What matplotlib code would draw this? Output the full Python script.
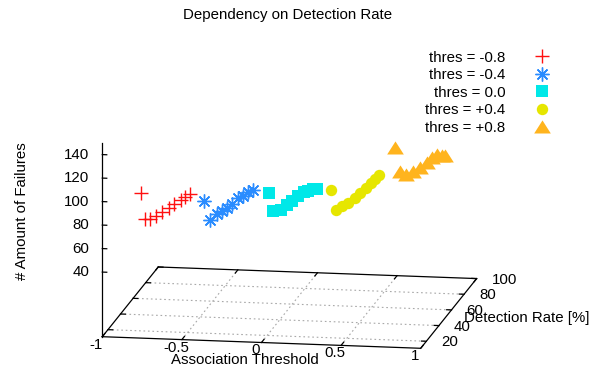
import numpy as np
import matplotlib
matplotlib.use("Agg")
import matplotlib.pyplot as plt
from mpl_toolkits.mplot3d import proj3d

plt.rcParams['font.family'] = ['Liberation Sans', 'DejaVu Sans']
FS = 10.8

# data
thresholds = [-0.8, -0.4, 0.0, 0.4, 0.8]
labels = ['thres = -0.8', 'thres = -0.4', 'thres = 0.0', 'thres = +0.4', 'thres = +0.8']
det_m08 = [22, 28, 37, 46, 56, 67, 75, 85, 92, 100]
fail_m08 = [101, 75, 69, 65, 62, 58, 56, 53, 51, 48]
det_m04 = [21, 30, 41, 50, 57, 66, 75, 83, 91, 99]
fail_m04 = [97, 75, 72, 69, 67, 64, 63, 60, 58, 54]
det_00 = [23, 30, 42, 51, 60, 69, 78, 85, 93, 100]
fail_00 = [104, 84, 77, 75, 73, 71, 68, 65, 61, 56]
det_p04 = [20, 29, 38, 48, 58, 67, 76, 84, 91, 97]
fail_p04 = [111, 88, 85, 81, 79, 77, 75, 74, 73, 72]
det_p08 = [21, 28, 39, 49, 60, 71, 80, 88, 95, 100]
fail_p08 = [148, 123, 113, 109, 105, 102, 100, 97, 92, 88]

xticks = [-1, -0.5, 0, 0.5, 1]
xticklabels = ['-1', '-0.5', '0', '0.5', '1']
yticks = [20, 40, 60, 80, 100]
zticks = [40, 60, 80, 100, 120, 140]

XMIN, XMAX = -1, 1
YMIN, YMAX = 11, 100
ZMIN, ZMAX = -15, 150   # floor sits below z=40 like gnuplot's ticslevel

W, H = 605, 372
fig = plt.figure(figsize=(W / 100, H / 100), dpi=100)
ax = fig.add_axes([0, 0, 1, 1], projection='3d', proj_type='ortho')
ax.set_xlim(XMIN, XMAX)
ax.set_ylim(YMIN, YMAX)
ax.set_zlim(ZMIN, ZMAX)
ax.view_init(elev=12.3, azim=-80.3)
ax.set_box_aspect((323, 332, 198.4))
ax.set_axis_off()
ax.computed_zorder = False


def to_px(xs, ys, zs):
    px, py, _ = proj3d.proj_transform(np.asarray(xs, float), np.asarray(ys, float),
                                      np.asarray(zs, float), ax.get_proj())
    return ax.transData.transform(np.column_stack([px, py]))


# fit the axes so the floor corners land where gnuplot put them
fig.canvas.draw()
p = to_px([XMIN, XMAX], [YMIN, YMIN], [ZMIN, ZMIN])
s = np.hypot(318.4, 11.6) / np.hypot(*(p[1] - p[0]))
bb = ax.get_position()
a = np.array([bb.x0 * W, bb.y0 * H])
L = bb.width * W
target = np.array([102.3, H - 336.7])
a_new = target - s * (p[0] - a)
ax.set_position([a_new[0] / W, a_new[1] / H, s * L / W, s * L / H])
fig.canvas.draw()

grid_kw = dict(color='#a8a8a8', lw=0.8, ls=(0, (1.5, 2.5)))
for x in xticks[1:-1]:
    ax.plot([x, x], [YMIN, YMAX], [ZMIN, ZMIN], **grid_kw)
for y in yticks[:-1]:
    ax.plot([XMIN, XMAX], [y, y], [ZMIN, ZMIN], **grid_kw)

bk = dict(color='black', lw=0.9)
ax.plot([XMIN, XMAX, XMAX, XMIN, XMIN], [YMIN, YMIN, YMAX, YMAX, YMIN],
        [ZMIN] * 5, **bk)
ax.plot([XMIN, XMIN], [YMIN, YMIN], [ZMIN, ZMAX], **bk)

# tick marks
for z in zticks:
    ax.plot([XMIN, XMIN + 0.028], [YMIN, YMIN], [z, z], **bk)
for x in xticks:
    ax.plot([x, x], [YMIN, YMIN + 4], [ZMIN, ZMIN], **bk)
    ax.plot([x, x], [YMAX, YMAX - 4], [ZMIN, ZMIN], **bk)
for y in yticks:
    ax.plot([XMAX, XMAX - 0.03], [y, y], [ZMIN, ZMIN], **bk)
    ax.plot([XMIN, XMIN + 0.03], [y, y], [ZMIN, ZMIN], **bk)

# tick labels, placed at the projected tick positions
zpx = to_px(np.full(len(zticks), XMIN), np.full(len(zticks), YMIN), zticks)
for (px, py), z in zip(zpx, zticks):
    fig.text((px - 13) / W, py / H, str(z), ha='right', va='center', fontsize=FS)
xpx = to_px(xticks, np.full(len(xticks), YMIN), np.full(len(xticks), ZMIN))
for (px, py), lab in zip(xpx, xticklabels):
    fig.text((px - 6) / W, (py - 8) / H, lab, ha='center', va='center', fontsize=FS)
ypx = to_px(np.full(len(yticks), XMAX), yticks, np.full(len(yticks), ZMIN))
for (px, py), y in zip(ypx, yticks):
    fig.text((px + 15) / W, (py - 1) / H, str(y), ha='left', va='center', fontsize=FS)

# series
dets = [det_m08, det_m04, det_00, det_p04, det_p08]
fails = [fail_m08, fail_m04, fail_00, fail_p04, fail_p08]
colors = ['#ff1010', '#2a8cff', '#00e8e8', '#e6e600', '#ffb41e']
tri = [(-1, -0.72), (1, -0.72), (0, 0.85)]
styles = [
    dict(marker='+', markersize=9.5, markeredgewidth=1.0),
    dict(marker=(8, 2, 0), markersize=10, markeredgewidth=1.0),
    dict(marker='s', markersize=8.6, markeredgewidth=0),
    dict(marker='o', markersize=8.2, markeredgewidth=0),
    dict(marker=tri, markersize=12, markeredgewidth=0),
]
handles = []
for t, d, f, c, st, lab in zip(thresholds, dets, fails, colors, styles, labels):
    h, = ax.plot(np.full(len(d), t), d, f, ls='none', color=c, label=lab, **st)
    handles.append(h)

fig.legend(handles=handles, loc='upper right', bbox_to_anchor=(557 / W, 1 - 50.5 / H),
           frameon=False, markerfirst=False, fontsize=FS, borderpad=0,
           borderaxespad=0, handlelength=2.0, handletextpad=1.44, labelspacing=0.24)

fig.text(288 / W, 1 - 15 / H, 'Dependency on Detection Rate', ha='center', va='center', fontsize=FS)
fig.text(245 / W, 1 - 360 / H, 'Association Threshold', ha='center', va='center', fontsize=FS)
fig.text(527 / W, 1 - 318 / H, 'Detection Rate [%]', ha='center', va='center', fontsize=FS)
fig.text(22 / W, 1 - 211 / H, '# Amount of Failures', ha='center', va='center',
         rotation=90, fontsize=FS)

fig.savefig('out.png', dpi=100)
